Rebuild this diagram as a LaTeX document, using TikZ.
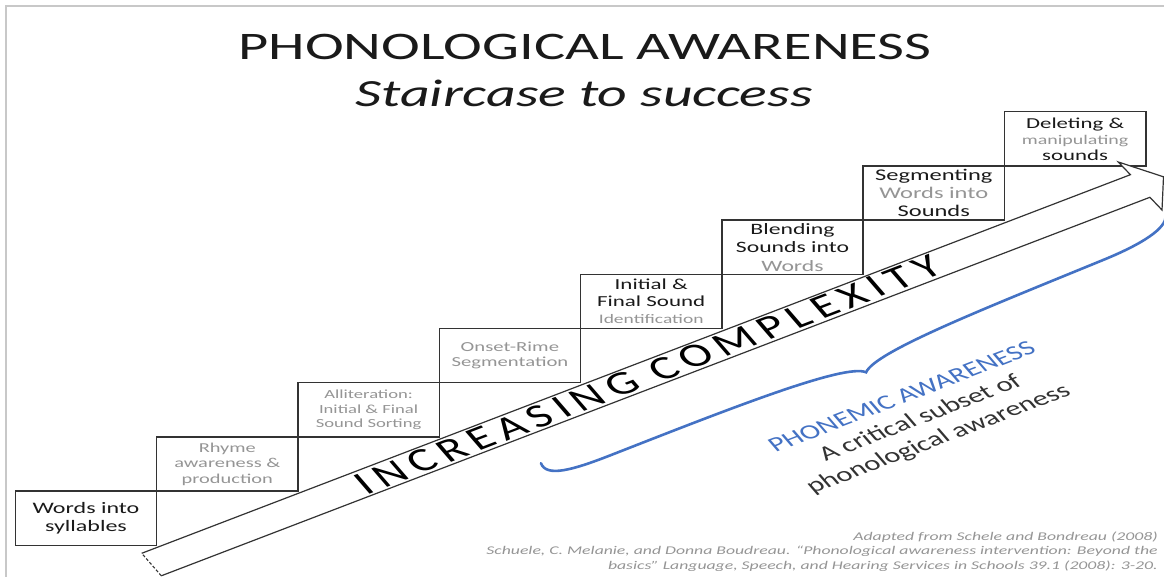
\documentclass[tikz,border=0pt]{standalone}
\usepackage{fontspec}
\setmainfont{Carlito}
\newcommand{\myfs}[2]{\fontsize{#1}{#2}\selectfont}
\definecolor{txtgray}{HTML}{959595}
\definecolor{txtblack}{HTML}{1A1A1A}
\definecolor{brblue}{HTML}{4472C4}
\definecolor{framegray}{HTML}{C8C8C8}
\definecolor{edgegray}{HTML}{333333}
\begin{document}
\begin{tikzpicture}[x=0.666667pt, y=-1pt, xscale=1.5,
  every node/.style={transform shape},
  stepbox/.style={draw=edgegray, line width=1.5pt, minimum width=94.2pt, minimum height=54.2pt,
    inner sep=0pt, align=center, text=txtblack},
  graytext/.style={text=txtgray}]
\useasboundingbox (0,0) rectangle (1164,577);
\fill[white] (0,0) rectangle (1164,577);
% frame
\draw[framegray, line width=2pt] (5.5,577) -- (5.5,6.5) -- (1164,6.5);
% title
\node[anchor=base, text=txtblack, font={\myfs{39}{44}}] (title) at (585,60) {PHONOLOGICAL AWARENESS};
\node[anchor=base, text=txtblack, font={\myfs{38.5}{44}\itshape}] (subtitle) at (584,107) {Staircase to success};
% steps
\node[stepbox, font={\myfs{16}{18}}] (s1) at (86,518.25) {Words into\\syllables};
\node[stepbox, graytext, font={\myfs{13.6}{15.5}}] (s2) at (227.3,464.05) {Rhyme\\awareness \&\\production};
\node[stepbox, graytext, font={\myfs{12.4}{14.7}}] (s3) at (368.6,409.85) {Alliteration:\\Initial \& Final\\Sound Sorting};
\node[stepbox, graytext, font={\myfs{13.8}{15}}] (s4) at (509.9,355.65) {Onset-Rime\\Segmentation};
\node[stepbox, font={\myfs{15.3}{17}}] (s5) at (651.2,301.45) {Initial \&\\Final Sound\\\textcolor{txtgray}{\myfs{13}{17}Identification}};
\node[stepbox, font={\myfs{15.8}{18.5}}] (s6) at (792.5,247.25) {Blending\\Sounds into\\\textcolor{txtgray}{Words}};
\node[stepbox, font={\myfs{16.3}{18.3}}] (s7) at (933.8,193.05) {Segmenting\\\textcolor{txtgray}{Words into}\\Sounds};
\node[stepbox, font={\myfs{15.2}{16}}] (s8) at (1075.1,138.85) {Deleting \&\\\textcolor{txtgray}{\myfs{13.3}{16}manipulating}\\sounds};
% arrow
\fill[white] (141.7,553.3) -- (1130.4,174.7) -- (1118.3,162) -- (1163.5,176.8) -- (1162,210)
  -- (1149.9,197.3) -- (161.3,575.8) -- cycle;
\draw[edgegray, line width=1.2pt, line join=miter] (141.7,553.3) -- (1130.4,174.7) -- (1118.3,162)
  -- (1163.5,176.8) -- (1162,210) -- (1149.9,197.3) -- (161.3,575.8);
\draw[edgegray, line width=1.1pt, densely dashed] (161.3,575.8) -- (141.7,553.3);
\node[rotate=30, text=black, font={\myfs{33}{34}\addfontfeature{LetterSpace=16}}] (inc) at (648,374.5) {INCREASING COMPLEXITY};
% brace
\draw[brblue, line width=2.6pt, line cap=round]
  (540.9,463.2) .. controls (546.4,477.2) and (570.8,470.9) .. (612.7,454.4)
  .. controls (733.7,407) and (845.4,363.2) .. (866.1,372.3)
  .. controls (875.2,351.5) and (985.1,308.4) .. (1105.3,259.1)
  .. controls (1151.6,239.9) and (1167.3,225.1) .. (1165.4,215.1);
\node[rotate=30, align=center, text=edgegray, font={\myfs{20.5}{24}}] (phon) at (921,419)
  {\textcolor{brblue}{PHONEMIC AWARENESS}\\A critical subset of\\phonological awareness};
% reference
\node[anchor=east, align=right, inner sep=0pt, text=txtgray, font={\myfs{11.8}{14.5}\itshape}] (ref) at (1158,551.5)
  {Adapted from Schele and Bondreau (2008)\\Schuele, C. Melanie, and Donna Boudreau. “Phonological awareness intervention: Beyond the\\basics” Language, Speech, and Hearing Services in Schools 39.1 (2008): 3-20.};
\end{tikzpicture}
\end{document}
